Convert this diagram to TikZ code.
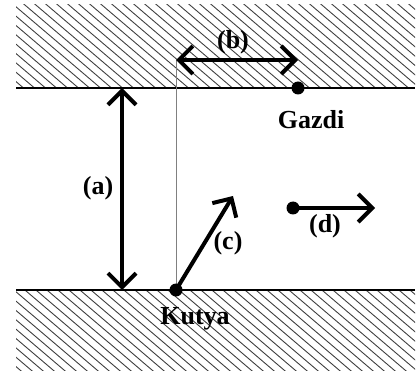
\documentclass[tikz,border=0pt]{standalone}
\usepackage{fontspec}
\setmainfont{Liberation Serif}
\usetikzlibrary{arrows.meta}

\begin{document}
\begin{tikzpicture}[x=1pt, y=-1pt,
    partvonal/.style={line width=2pt},
    sraff/.style={line width=.9pt, black!75},
    nyil/.style={line width=4pt, arrows={-Straight Barb[length=14pt, width=28pt]}},
    ketnyil/.style={line width=4pt, arrows={Straight Barb[length=14pt, width=28pt]-Straight Barb[length=14pt, width=28pt]}},
    pont/.style={circle, fill=black, inner sep=0pt, minimum size=13pt},
    felirat/.style={font=\fontsize{26}{30}\selectfont\bfseries}]

  \useasboundingbox (0,0) rectangle (417,371);

  % partok
  \begin{scope}
    \clip (16,5) rectangle (415,88);
    \foreach \x in {-300,-289,...,420} { \draw[sraff] (\x,0) -- ++(300,255); }
  \end{scope}
  \begin{scope}
    \clip (16,290) rectangle (415,371);
    \foreach \x in {-300,-289,...,420} { \draw[sraff] (\x,285) -- ++(300,255); }
  \end{scope}
  \draw[partvonal] (16,88) -- (415,88);
  \draw[partvonal] (16,290) -- (415,290);

  \coordinate (aFent) at (122,88);
  \coordinate (aLent) at (122,290);
  \coordinate (bBal) at (176,60);
  \coordinate (bJobb) at (298,60);
  \coordinate (cVeg) at (233,196);
  \coordinate (dVeg) at (375,208);

  \draw[line width=.4pt, gray] (bBal) -- (176,290);

  \draw[ketnyil] (aFent) -- (aLent);
  \draw[ketnyil] (bBal) -- (bJobb);
  \draw[nyil] (176,290) -- (cVeg);
  \draw[nyil] (293,208) -- (dVeg);

  \node[pont] (gazdi) at (298,88) {};
  \node[pont] (kutya) at (176,290) {};
  \node[pont] (dpont) at (293,208) {};

  \node[felirat] (la) at (98,188) {(a)};
  \node[felirat] (lb) at (233,42) {(b)};
  \node[felirat] (lc) at (228,243) {(c)};
  \node[felirat] (ld) at (325,226) {(d)};
  \node[felirat] (lgazdi) at (311,120) {Gazdi};
  \node[felirat] (lkutya) at (195,319) {Kutya};
\end{tikzpicture}
\end{document}
